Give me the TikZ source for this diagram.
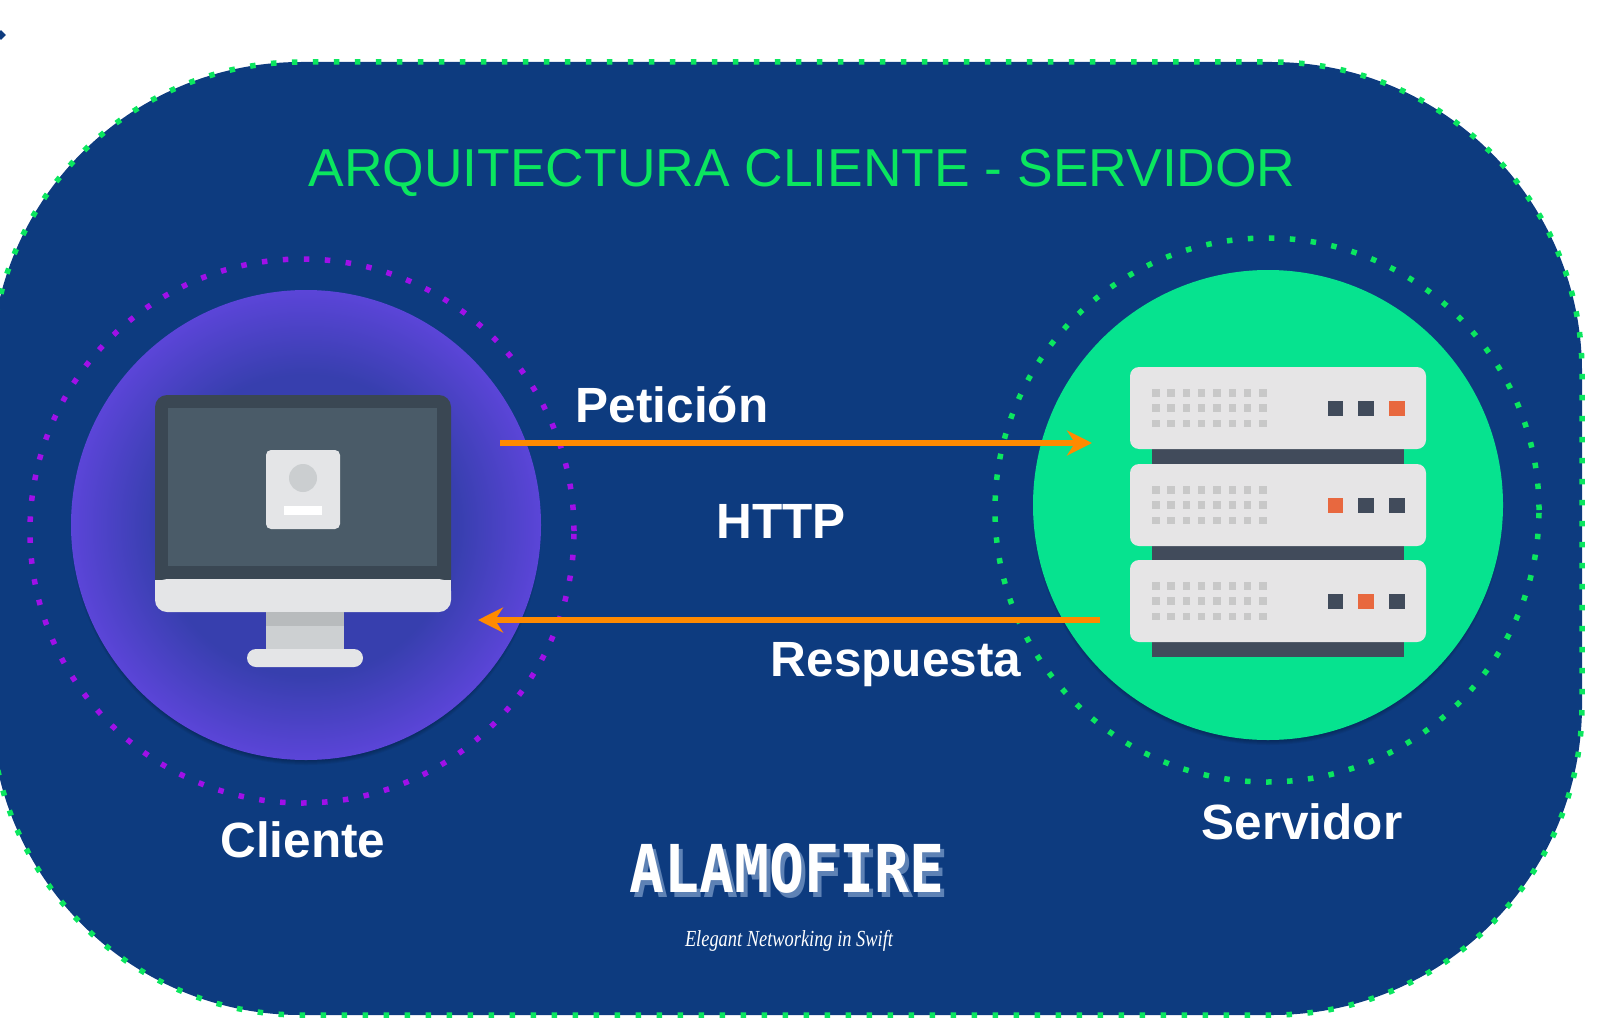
\documentclass[tikz,border=0pt]{standalone}
\usepackage{fontspec}
\setmainfont{Liberation Sans}
\newfontfamily\alamofont[FakeStretch=0.88]{DejaVu Sans Mono}
\newfontfamily\swiftfont[FakeStretch=0.8]{Liberation Serif}
\usepackage{xcolor}
\usetikzlibrary{
    arrows.meta,
    shapes.geometric
}
\definecolor{navy}{HTML}{0D3B7F}
\definecolor{dotgreen}{HTML}{0BE65F}
\definecolor{dotpurple}{HTML}{A010E8}
\definecolor{srvgreen}{HTML}{06E38F}
\definecolor{cliouter}{HTML}{5B45D8}
\definecolor{cliinner}{HTML}{373FAE}
\definecolor{wirecol}{HTML}{FF8A00}
\definecolor{bezel}{HTML}{3A4753}
\definecolor{screencol}{HTML}{4A5B68}
\definecolor{panel}{HTML}{E4E5E7}
\definecolor{standdark}{HTML}{B8BBBD}
\definecolor{standlight}{HTML}{CDD0D2}
\definecolor{rackdark}{HTML}{414B5B}
\definecolor{rackled}{HTML}{E8683F}
\definecolor{rackbox}{HTML}{E6E5E6}
\definecolor{rackvent}{HTML}{C8C8C8}
\definecolor{shadowcol}{HTML}{5E82B5}
\pgfdeclareradialshading{clientshade}{\pgfpoint{0bp}{0bp}}{color(0bp)=(cliinner); color(16bp)=(cliinner); color(25bp)=(cliouter); color(50bp)=(cliouter)}
\tikzset{
    dotted ring/.style={line width=5.5pt, dash pattern=on 5.5pt off 15.5pt},
    disc/.style={circle, minimum size=470pt, inner sep=0pt},
    ring/.style={circle, minimum size=544pt, inner sep=0pt, draw=#1, dotted ring},
    wire/.style={draw=wirecol, line width=6pt, -{Stealth[length=25pt, width=25pt, inset=8pt]}},
    lbl/.style={text=white, font=\fontsize{49.5}{49.5}\selectfont\bfseries, inner sep=0pt}
}
\begin{document}
\begin{tikzpicture}[x=1pt, y=-1pt]
    \useasboundingbox (0, 0) rectangle (1600, 1030);
    \node[diamond, fill=navy, minimum size=10pt, inner sep=0pt] (mark) at (1, 35) {};
    \fill[navy] (800, 62) [rounded corners=310pt] -- (1582, 62) -- (1582, 1015) -- (-9, 1015) -- (-9, 62) -- cycle;
    \draw[dotgreen, dotted ring] (800, 62) [rounded corners=310pt] -- (1582, 62) -- (1582, 1015) -- (-9, 1015) -- (-9, 62) -- cycle;
    \node[text=dotgreen, font=\fontsize{53.4}{53.4}\selectfont, inner sep=0pt] (title) at (802, 173) {ARQUITECTURA CLIENTE - SERVIDOR};
    % client side
    \node[ring=dotpurple] (clientring) at (302, 531) {};
    \foreach \s in {1, 2, ..., 6} {
        \fill[black, opacity=.05] (306, 530) circle ({229+\s});
        \fill[black, opacity=.05] (1268, 510) circle ({229+\s});
    }
    \node[disc, shading=clientshade] (client) at (306, 525) {};
    \fill[bezel, rounded corners=12pt] (155, 395) rectangle (451, 600);
    \fill[screencol] (168, 408) rectangle (437, 566);
    \fill[panel, rounded corners=5pt] (266, 450) rectangle (340, 529);
    \fill[standlight!110!panel] (303, 478) circle (14);
    \fill[white] (284, 506) rectangle (322, 515);
    \fill[panel, rounded corners=12pt] (155, 579) -- (451, 579) -- (451, 612) -- (155, 612) -- cycle;
    \fill[panel] (155, 580) rectangle (451, 595);
    \fill[standlight] (266, 612) rectangle (344, 650);
    \fill[standdark] (266, 612) rectangle (344, 626);
    \fill[panel, rounded corners=9pt] (247, 649) rectangle (363, 667);
    % server side
    \node[ring=dotgreen] (serverring) at (1267, 510) {};
    \node[disc, fill=srvgreen] (server) at (1268, 505) {};
    \foreach \t/\ledA/\ledB/\ledC in {367/rackdark/rackdark/rackled, 464/rackled/rackdark/rackdark, 560/rackdark/rackled/rackdark} {
        \fill[rackdark] (1152, \t+40) rectangle (1404, \t+97);
        \fill[rackbox, rounded corners=9pt] (1130, \t) rectangle (1426, \t+82);
        \foreach \i in {0, ..., 7} {
            \foreach \j in {0, 1, 2} {
                \fill[rackvent] ({1152+15.3*\i}, {\t+22+15.3*\j}) rectangle +(7.5, 7.5);
            }
        }
        \fill[\ledA] (1327.5, \t+33.5) rectangle +(15.5, 15.5);
        \fill[\ledB] (1358.2, \t+33.5) rectangle +(15.5, 15.5);
        \fill[\ledC] (1389, \t+33.5) rectangle +(15.5, 15.5);
    }
    % connectors
    \coordinate (reqstart) at (500, 443);
    \coordinate (reqend) at (1092, 443);
    \coordinate (respstart) at (1100, 620);
    \coordinate (respend) at (478, 620);
    \draw[wire] (reqstart) -- (reqend);
    \draw[wire] (respstart) -- (respend);
    % labels
    \node[lbl] (peticion) at (672, 405) {Petición};
    \node[lbl] (http) at (781, 521) {HTTP};
    \node[lbl] (respuesta) at (896, 665) {Respuesta};
    \node[lbl] (clientelbl) at (303, 840) {Cliente};
    \node[lbl] (servidorlbl) at (1302, 822) {Servidor};
    % logo
    \node[text=shadowcol, font=\alamofont\fontsize{66}{66}\selectfont\bfseries, inner sep=0pt] (logoback) at (791, 873) {ALAMOFIRE};
    \node[text=white, font=\alamofont\fontsize{66}{66}\selectfont\bfseries, inner sep=0pt] (logo) at (787, 868) {ALAMOFIRE};
    \node[text=white, font=\swiftfont\fontsize{23}{23}\selectfont\itshape, inner sep=0pt] (tagline) at (789, 941) {Elegant Networking in Swift};
\end{tikzpicture}
\end{document}
